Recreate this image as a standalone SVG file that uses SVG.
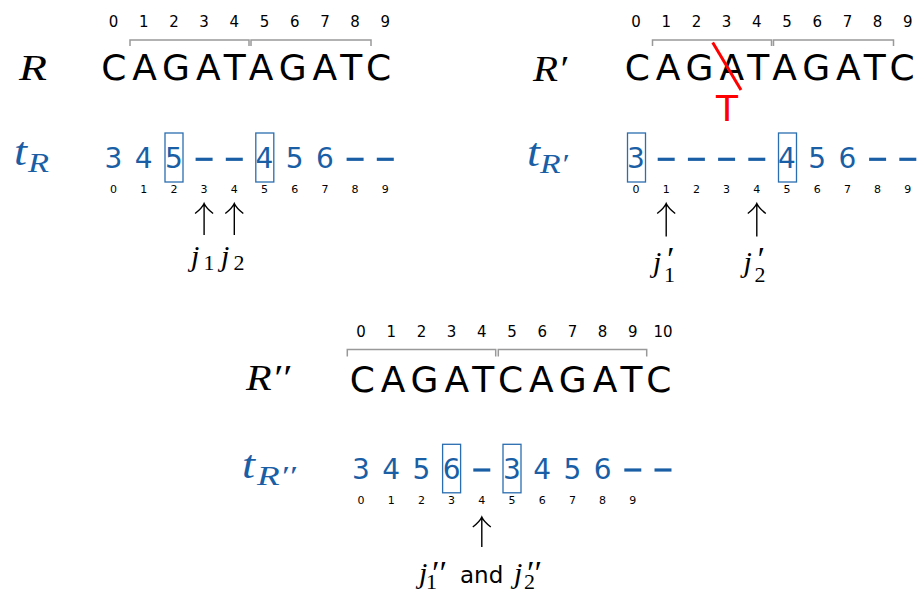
<svg xmlns="http://www.w3.org/2000/svg" width="922" height="594" viewBox="0 0 922 594">
<style>
.seq{font-family:"DejaVu Sans",sans-serif;font-size:36px;fill:#000;letter-spacing:5.9px}
.idx{font-family:"DejaVu Sans",sans-serif;font-size:15px;fill:#000;text-anchor:middle}
.sidx{font-family:"DejaVu Sans",sans-serif;font-size:11px;fill:#000;text-anchor:middle}
.bd{font-family:"DejaVu Sans",sans-serif;font-size:28px;fill:#1a5fa5;text-anchor:middle}
.mi{font-family:"Liberation Serif","DejaVu Serif",serif;font-style:italic;fill:#000}
.sub{font-style:normal;font-size:22px}
.pr{font-size:34px}
.blue{fill:#1a5fa5}
.sans{font-family:"DejaVu Sans",sans-serif;fill:#000}
.brk{fill:none;stroke:#999;stroke-width:1.5}
.box{fill:none;stroke:#2a6db0;stroke-width:1.3}
.dash{stroke:#1a5fa5;stroke-width:3.2}
.arr{fill:none;stroke:#000;stroke-width:1.4}
</style>

<!-- Panel R -->
<g id="R">
  <text class="mi" x="19" y="80" font-size="36" textLength="28" lengthAdjust="spacingAndGlyphs">R</text>
  <text class="idx" y="27" x="113.5 143.7 173.9 204.1 234.3 264.5 294.7 324.9 355.1 385.3">0123456789</text>
  <path class="brk" d="M130,46V40H249V46M251,46V40H371V46"/>
  <text class="seq" x="101.2" y="80">CAGATAGATC</text>
</g>
<g id="tR">
  <text class="mi blue" x="14" y="165" font-size="40" textLength="13" lengthAdjust="spacingAndGlyphs">t</text>
  <text class="mi blue" x="28" y="172" font-size="28" textLength="21" lengthAdjust="spacingAndGlyphs">R</text>
  <text class="bd" y="168" x="113.5 143.7 173.9">345</text>
  <text class="bd" y="168" x="264.5 294.7 324.9">456</text>
  <g class="dash">
    <line x1="195.6" y1="159.3" x2="212.6" y2="159.3"/>
    <line x1="225.8" y1="159.3" x2="242.8" y2="159.3"/>
    <line x1="346.6" y1="159.3" x2="363.6" y2="159.3"/>
    <line x1="376.8" y1="159.3" x2="393.8" y2="159.3"/>
  </g>
  <rect class="box" x="165" y="133" width="18" height="49"/>
  <rect class="box" x="255.8" y="133" width="18" height="49"/>
  <text class="sidx" y="193" x="113.5 143.7 173.9 204.1 234.3 264.5 294.7 324.9 355.1 385.3">0123456789</text>
</g>
<g id="jR">
  <text class="mi" font-size="30"><tspan x="191" y="266">j</tspan><tspan class="sub" x="203.5" y="270">1</tspan><tspan x="221" y="266">j</tspan><tspan class="sub" x="233.5" y="270">2</tspan></text>
</g>

<!-- Panel R' -->
<g id="Rp">
  <text class="mi" x="533" y="81" font-size="36" textLength="34" lengthAdjust="spacingAndGlyphs">R′</text>
  <text class="idx" y="27" x="636 666.2 696.4 726.6 756.8 787 817.2 847.4 877.6 907.8">0123456789</text>
  <path class="brk" d="M652.5,46V40H771.5V46M773.5,46V40H893.5V46"/>
  <text class="seq" x="624.7" y="80">CAGATAGATC</text>
  <line x1="712.7" y1="42.5" x2="741" y2="90" stroke="#ff0000" stroke-width="3"/>
  <text class="sans" x="727" y="121" font-size="36" text-anchor="middle" style="fill:#ff0000">T</text>
</g>
<g id="tRp">
  <text class="mi blue" x="527" y="166" font-size="40" textLength="13" lengthAdjust="spacingAndGlyphs">t</text>
  <text class="mi blue" x="540" y="173" font-size="28" textLength="28" lengthAdjust="spacingAndGlyphs">R′</text>
  <text class="bd" y="168" x="636">3</text>
  <text class="bd" y="168" x="787 817.2 847.4">456</text>
  <g class="dash">
    <line x1="657.7" y1="159.3" x2="674.7" y2="159.3"/>
    <line x1="687.9" y1="159.3" x2="704.9" y2="159.3"/>
    <line x1="718.1" y1="159.3" x2="735.1" y2="159.3"/>
    <line x1="748.3" y1="159.3" x2="765.3" y2="159.3"/>
    <line x1="869.1" y1="159.3" x2="886.1" y2="159.3"/>
    <line x1="899.3" y1="159.3" x2="916.3" y2="159.3"/>
  </g>
  <rect class="box" x="627.5" y="133" width="18" height="49"/>
  <rect class="box" x="778.5" y="133" width="18" height="49"/>
  <text class="sidx" y="193" x="636 666.2 696.4 726.6 756.8 787 817.2 847.4 877.6 907.8">0123456789</text>
</g>
<g id="jRp">
  <text class="mi" font-size="30"><tspan x="653" y="272">j</tspan><tspan class="pr" x="665" y="270">′</tspan><tspan class="sub" x="664" y="282">1</tspan></text>
  <text class="mi" font-size="30"><tspan x="743.6" y="272">j</tspan><tspan class="pr" x="755.6" y="270">′</tspan><tspan class="sub" x="754.6" y="282">2</tspan></text>
</g>

<!-- Panel R'' -->
<g id="Rpp">
  <text class="mi" x="246" y="390" font-size="36" textLength="44" lengthAdjust="spacingAndGlyphs">R′′</text>
  <text class="idx" y="337" x="361 391.2 421.4 451.6 481.8 512 542.2 572.4 602.6 632.8">0123456789</text>
  <text class="idx" y="337" x="663">10</text>
  <path class="brk" d="M347.3,356.5V349.5H495.7V356.5M498.3,356.5V349.5H646.7V356.5"/>
  <text class="seq" x="349.7" y="392">CAGATCAGATC</text>
</g>
<g id="tRpp">
  <text class="mi blue" x="242" y="478" font-size="40" textLength="13" lengthAdjust="spacingAndGlyphs">t</text>
  <text class="mi blue" x="257" y="485" font-size="28" textLength="39" lengthAdjust="spacingAndGlyphs">R′′</text>
  <text class="bd" y="479" x="361 391.2 421.4 451.6">3456</text>
  <text class="bd" y="479" x="512 542.2 572.4 602.6">3456</text>
  <g class="dash">
    <line x1="473.3" y1="470" x2="490.3" y2="470"/>
    <line x1="624.3" y1="470" x2="641.3" y2="470"/>
    <line x1="654.5" y1="470" x2="671.5" y2="470"/>
  </g>
  <rect class="box" x="442.6" y="444.3" width="18" height="48.5"/>
  <rect class="box" x="503" y="444.3" width="18" height="48.5"/>
  <text class="sidx" y="504" x="361 391.2 421.4 451.6 481.8 512 542.2 572.4 602.6 632.8">0123456789</text>
</g>
<g id="jRpp">
  <text class="mi" font-size="30"><tspan x="419" y="583">j</tspan><tspan class="pr" x="430" y="584">′′</tspan><tspan class="sub" x="426" y="589">1</tspan><tspan class="sans" style="font-family:'DejaVu Sans',sans-serif;font-style:normal;font-size:23px" x="460" y="583">and</tspan><tspan x="514" y="583">j</tspan><tspan class="pr" x="525" y="584">′′</tspan><tspan class="sub" x="524" y="589">2</tspan></text>
</g>

<!-- Connectors (arrows) -->
<g id="connectors" class="arr">
  <path d="M204.1,235V203.5M195.1,213.5C199.6,210 202.6,207 204.1,203.5C205.6,207 208.6,210 213.1,213.5"/>
  <path d="M234.3,235V203.5M225.3,213.5C229.8,210 232.8,207 234.3,203.5C235.8,207 238.8,210 243.3,213.5"/>
  <path d="M666.2,236.5V203.5M657.2,213.5C661.7,210 664.7,207 666.2,203.5C667.7,207 670.7,210 675.2,213.5"/>
  <path d="M756.8,236.5V203.5M747.8,213.5C752.3,210 755.3,207 756.8,203.5C758.3,207 761.3,210 765.8,213.5"/>
  <path d="M481.8,547V517M472.8,527C477.3,523.5 480.3,520.5 481.8,517C483.3,520.5 486.3,523.5 490.8,527"/>
</g>
</svg>
